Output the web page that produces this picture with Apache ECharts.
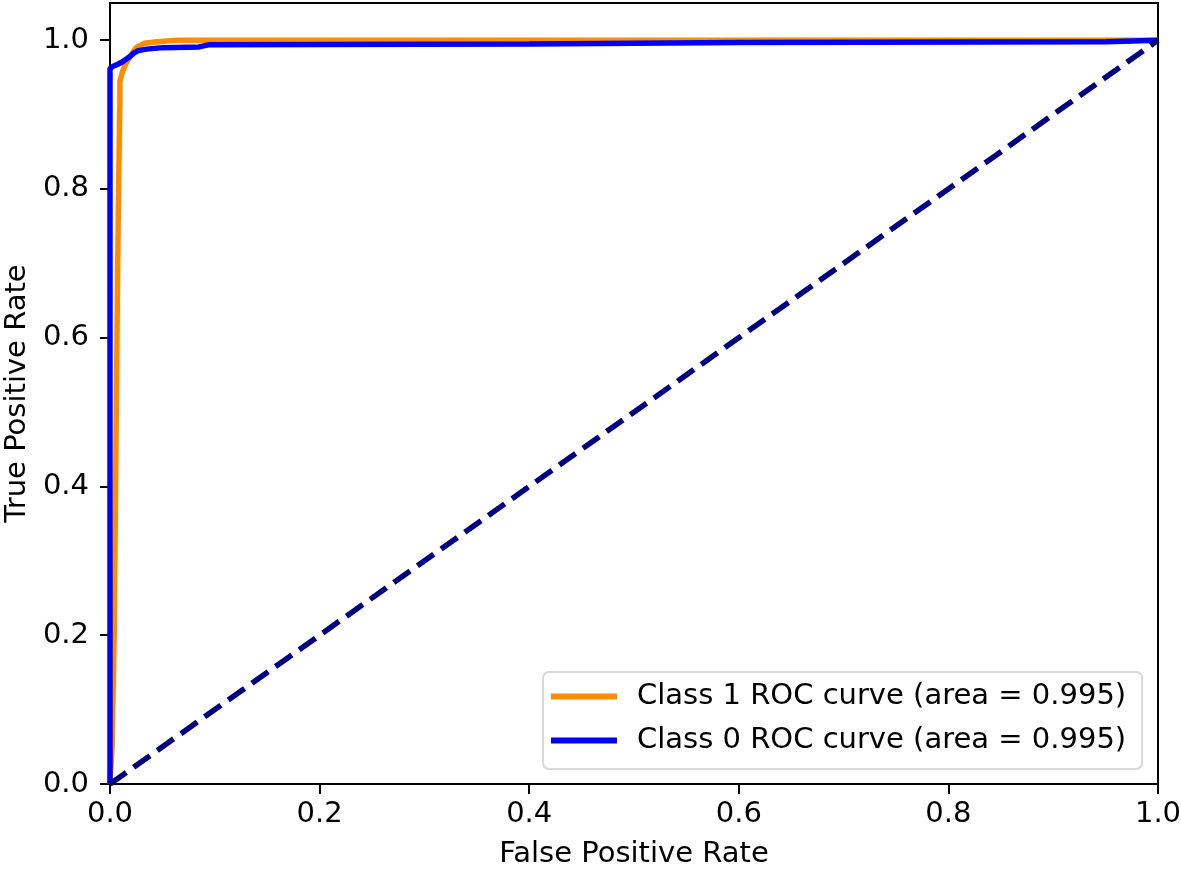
<!DOCTYPE html>
<html>
<head>
<meta charset="utf-8">
<script src="https://cdn.jsdelivr.net/npm/echarts@6/dist/echarts.min.js"></script>
<style>
  html, body { margin: 0; padding: 0; background: #fff; }
  #main { width: 1181px; height: 872px; }
</style>
</head>
<body>
<div id="main"></div>
<script>
// ROC curve points
var fpr1 = [0, 0.002, 0.004, 0.005, 0.006, 0.007, 0.008, 0.009, 0.0095, 0.0095, 0.012, 0.015, 0.02, 0.025, 0.033, 0.045, 0.065, 1.0];
var tpr1 = [0, 0.05, 0.2, 0.35, 0.5, 0.65, 0.78, 0.88, 0.92, 0.945, 0.958, 0.968, 0.98, 0.99, 0.996, 0.998, 1.0, 1.0];

var fpr0 = [0, 0, 0.003, 0.008, 0.012, 0.016, 0.019, 0.023, 0.027, 0.035, 0.05, 0.085, 0.095, 0.4, 0.6, 0.95, 1.0];
var tpr0 = [0, 0.962, 0.965, 0.968, 0.971, 0.975, 0.978, 0.983, 0.986, 0.988, 0.99, 0.991, 0.994, 0.995, 0.997, 0.998, 1.0];

var diagX = [0, 1];
var diagY = [0, 1];

var tickValues = [0, 0.2, 0.4, 0.6, 0.8, 1.0];
var names = ['Class 1 ROC curve (area = 0.995)', 'Class 0 ROC curve (area = 0.995)'];

function zip(xs, ys) {
    return xs.map(function (x, i) { return [x, ys[i]]; });
}

var font = 'DejaVu Sans';
var fs = 29;
var myChart = echarts.init(document.getElementById('main'));

var axisCommon = {
    type: 'value',
    min: 0,
    axisLine: { show: true, onZero: false, lineStyle: { color: '#000', width: 2 } },
    axisTick: { show: true, inside: false, length: 10, lineStyle: { color: '#000', width: 2 }, customValues: tickValues },
    splitLine: { show: false },
    nameLocation: 'middle',
    nameTextStyle: { fontFamily: font, fontSize: fs, color: '#000' }
};

var option = {
    animation: false,
    backgroundColor: '#fff',
    grid: {
        left: 110, right: 23, top: 3, bottom: 88,
        outerBoundsMode: 'none',
        containLabel: false,
        show: true, borderColor: '#000', borderWidth: 2
    },
    legend: {
        orient: 'vertical',
        left: 543,
        top: 672,
        data: names,
        icon: 'rect',
        itemWidth: 66,
        itemHeight: 6,
        itemGap: 11,
        padding: [8, 16, 12, 8],
        borderColor: '#d9d9d9',
        borderWidth: 2,
        borderRadius: 6,
        backgroundColor: 'rgba(255,255,255,0.8)',
        textStyle: {
            fontFamily: font, fontSize: fs, color: '#000',
            lineHeight: 33, padding: [0, 0, 0, 15]
        }
    },
    xAxis: Object.assign({}, axisCommon, {
        max: 1,
        interval: 0.2,
        name: 'False Positive Rate',
        nameGap: 56,
        axisLabel: {
            fontFamily: font, fontSize: fs, color: '#000', margin: 16,
            formatter: function (v) { return v.toFixed(1); }
        }
    }),
    yAxis: Object.assign({}, axisCommon, {
        max: 1.05,
        interval: 0.2,
        name: 'True Positive Rate',
        nameGap: 78,
        nameRotate: 90,
        axisLabel: {
            fontFamily: font, fontSize: fs, color: '#000', margin: 21,
            customValues: tickValues,
            formatter: function (v) { return v.toFixed(1); }
        }
    }),
    series: [{
        name: names[0],
        type: 'line',
        data: zip(fpr1, tpr1),
        showSymbol: false,
        color: '#FF8C00',
        lineStyle: { color: '#FF8C00', width: 5.5 }
    }, {
        name: names[1],
        type: 'line',
        data: zip(fpr0, tpr0),
        showSymbol: false,
        color: '#0000FF',
        lineStyle: { color: '#0000FF', width: 5.5 }
    }, {
        name: 'diagonal',
        type: 'line',
        data: zip(diagX, diagY),
        showSymbol: false,
        color: '#000080',
        lineStyle: { color: '#000080', width: 5.5, type: [20, 9], cap: 'butt' }
    }]
};

myChart.setOption(option);
</script>
</body>
</html>
